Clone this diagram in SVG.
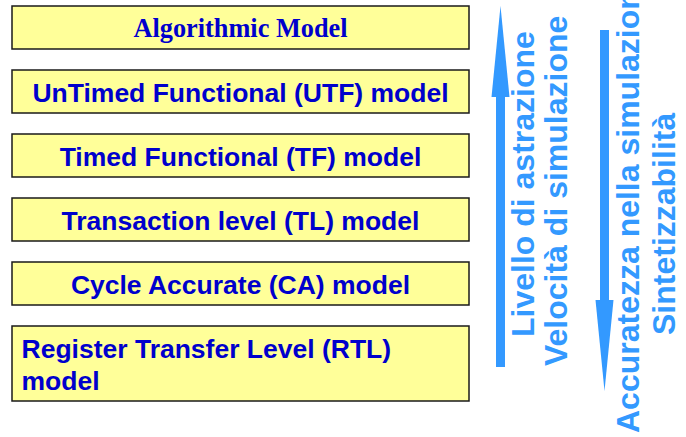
<svg xmlns="http://www.w3.org/2000/svg" width="686" height="437" viewBox="0 0 686 437">
  <style>
    .box { fill: #ffff99; stroke: #1a1a1a; stroke-width: 1.5; }
    .lbl { font-family: "Liberation Sans", Arial, sans-serif; font-weight: bold; font-size: 26.5px; fill: #0000cc; }
    .serif { font-family: "Liberation Serif", "Times New Roman", serif; font-weight: bold; font-size: 26.3px; fill: #0000cc; }
    .side { font-family: "Liberation Sans", Arial, sans-serif; font-weight: bold; font-size: 32px; fill: #3399ff; }
    .arrow { fill: #3399ff; }
  </style>
  <rect width="686" height="437" fill="#ffffff"/>

  <g id="algorithmic">
    <rect class="box" x="12" y="6" width="457" height="43"/>
    <text class="serif" x="240.5" y="37" text-anchor="middle">Algorithmic Model</text>
  </g>
  <g id="utf">
    <rect class="box" x="12" y="70" width="457" height="43"/>
    <text class="lbl" x="240.5" y="101.5" text-anchor="middle">UnTimed Functional (UTF) model</text>
  </g>
  <g id="tf">
    <rect class="box" x="12" y="134" width="457" height="43"/>
    <text class="lbl" x="240.5" y="165.5" text-anchor="middle">Timed Functional (TF) model</text>
  </g>
  <g id="tl">
    <rect class="box" x="12" y="198" width="457" height="43"/>
    <text class="lbl" x="240.5" y="229.5" text-anchor="middle">Transaction level (TL) model</text>
  </g>
  <g id="ca">
    <rect class="box" x="12" y="262" width="457" height="43"/>
    <text class="lbl" x="240.5" y="293.5" text-anchor="middle">Cycle Accurate (CA) model</text>
  </g>
  <g id="rtl">
    <rect class="box" x="12" y="326" width="457" height="75"/>
    <text class="lbl" x="21.5" y="357.5">Register Transfer Level (RTL)</text>
    <text class="lbl" x="21.5" y="390">model</text>
  </g>

  <g id="arrows">
    <!-- upward arrow: abstraction / simulation speed -->
    <rect class="arrow" x="496" y="96" width="9" height="271"/>
    <polygon class="arrow" points="491.5,97 500.5,6 509.5,97"/>
    <!-- downward arrow: accuracy / synthesizability -->
    <rect class="arrow" x="600" y="30" width="9" height="271"/>
    <polygon class="arrow" points="595.5,300 613.5,300 604.5,391"/>
  </g>

  <g id="side-labels">
    <text class="side" transform="translate(534,337) rotate(-90)">Livello di astrazione</text>
    <text class="side" transform="translate(567,366) rotate(-90)">Velocità di simulazione</text>
    <text class="side" transform="translate(639,433) rotate(-90)">Accuratezza nella simulazione</text>
    <text class="side" transform="translate(675,335) rotate(-90)">Sintetizzabilità</text>
  </g>
</svg>
